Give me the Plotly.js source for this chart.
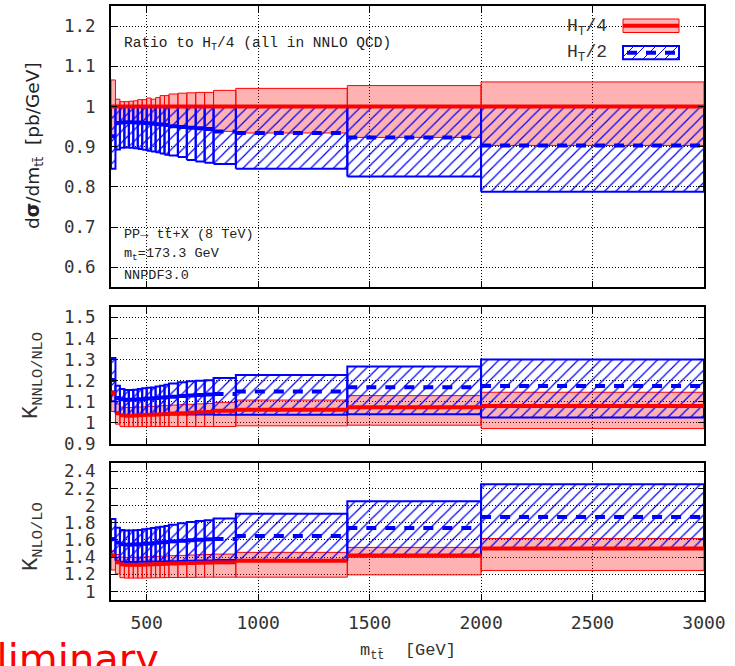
<!DOCTYPE html>
<html><head><meta charset="utf-8">
<script src="https://cdn.plot.ly/plotly-3.0.1.min.js"></script>
<style>html,body{margin:0;padding:0;background:#fff}</style>
</head><body><div id="c" style="width:735px;height:666px"></div>
<script>
// bin edges in m_tt [GeV]
const binEdges = [340,360,380,400,420,440,460,480,500,520,540,560,580,600,640,680,720,760,800,900,1400,2000,3000];

// Panel 1: ratio to H_T/4
const ratioHT4_c  = [1,1,1,1,1,1,1,1,1,1,1,1,1,1,1,1,1,1,1,1,1,1];
const ratioHT4_hi = [1.066,1.018,1.012,1.012,1.013,1.014,1.017,1.017,1.021,1.018,1.022,1.027,1.027,1.031,1.033,1.034,1.035,1.035,1.040,1.045,1.052,1.061];
const ratioHT4_lo = [0.926,0.959,0.960,0.961,0.961,0.960,0.960,0.959,0.958,0.957,0.956,0.955,0.954,0.951,0.949,0.947,0.946,0.944,0.938,0.934,0.923,0.903];
const ratioHT2_c  = [0.926,0.959,0.960,0.961,0.961,0.960,0.960,0.959,0.958,0.957,0.956,0.955,0.954,0.951,0.949,0.947,0.946,0.944,0.938,0.934,0.923,0.903];
const ratioHT2_hi = [1,1,1,1,1,1,1,1,1,1,1,1,1,1,1,1,1,1,1,1,1,1];
const ratioHT2_lo = [0.845,0.893,0.897,0.898,0.897,0.896,0.894,0.892,0.890,0.888,0.886,0.883,0.880,0.878,0.874,0.867,0.863,0.860,0.857,0.845,0.826,0.788];

// Panel 2: K NNLO/NLO
const kNNLO_HT4_c  = [1.141,1.045,1.036,1.034,1.034,1.035,1.036,1.037,1.038,1.039,1.040,1.041,1.042,1.044,1.046,1.048,1.050,1.052,1.058,1.062,1.074,1.080];
const kNNLO_HT4_hi = [1.152,1.090,1.075,1.073,1.073,1.074,1.075,1.076,1.077,1.078,1.080,1.081,1.082,1.084,1.086,1.088,1.090,1.092,1.097,1.108,1.129,1.145];
const kNNLO_HT4_lo = [1.054,0.994,0.983,0.982,0.982,0.982,0.982,0.983,0.983,0.983,0.983,0.983,0.983,0.983,0.983,0.983,0.983,0.983,0.983,0.986,0.989,0.973];
const kNNLO_HT2_c  = [1.203,1.118,1.112,1.110,1.110,1.111,1.112,1.113,1.115,1.116,1.118,1.120,1.121,1.124,1.127,1.130,1.132,1.134,1.137,1.149,1.169,1.175];
const kNNLO_HT2_hi = [1.307,1.176,1.160,1.156,1.156,1.157,1.160,1.164,1.166,1.168,1.172,1.176,1.180,1.187,1.192,1.197,1.200,1.202,1.213,1.227,1.267,1.300];
const kNNLO_HT2_lo = [1.102,1.046,1.037,1.036,1.036,1.036,1.037,1.037,1.037,1.038,1.038,1.038,1.039,1.040,1.040,1.040,1.040,1.040,1.038,1.038,1.041,1.026];

// Panel 3: K NLO/LO
const kNLO_HT4_c  = [1.420,1.340,1.315,1.310,1.310,1.310,1.310,1.312,1.314,1.316,1.318,1.320,1.322,1.325,1.328,1.331,1.334,1.336,1.339,1.358,1.416,1.500];
const kNLO_HT4_hi = [1.470,1.430,1.400,1.395,1.395,1.397,1.400,1.402,1.404,1.406,1.408,1.410,1.413,1.417,1.420,1.424,1.428,1.430,1.435,1.455,1.513,1.617];
const kNLO_HT4_lo = [1.250,1.204,1.160,1.155,1.155,1.155,1.155,1.156,1.157,1.158,1.159,1.160,1.161,1.162,1.163,1.164,1.165,1.166,1.166,1.166,1.193,1.243];
const kNLO_HT2_c  = [1.610,1.570,1.550,1.545,1.545,1.548,1.550,1.555,1.558,1.562,1.567,1.572,1.576,1.583,1.590,1.597,1.602,1.607,1.612,1.647,1.739,1.866];
const kNLO_HT2_hi = [1.845,1.743,1.716,1.709,1.709,1.712,1.716,1.724,1.730,1.739,1.747,1.755,1.763,1.778,1.793,1.809,1.820,1.828,1.851,1.905,2.050,2.250];
const kNLO_HT2_lo = [1.410,1.358,1.346,1.344,1.344,1.344,1.345,1.346,1.347,1.348,1.349,1.350,1.351,1.353,1.355,1.357,1.359,1.361,1.366,1.366,1.427,1.493];

const xTicks = [500,1000,1500,2000,2500,3000];

// ---------- helpers ----------
function boxes(lo, hi){
  const x=[], y=[];
  for(let i=0;i<lo.length;i++){
    const a=binEdges[i], b=binEdges[i+1];
    x.push(a,b,b,a,a,null); y.push(lo[i],lo[i],hi[i],hi[i],lo[i],null);
  }
  return {x,y};
}
function segs(c){
  const x=[], y=[];
  for(let i=0;i<c.length;i++){ x.push(binEdges[i],binEdges[i+1],null); y.push(c[i],c[i],null); }
  return {x,y};
}
const RED='#ff0000', BLUE='#0000ff';
function redBand(lo,hi,xa,ya){
  const b=boxes(lo,hi);
  return {x:b.x,y:b.y,xaxis:xa,yaxis:ya,mode:'lines',fill:'toself',fillcolor:'rgba(255,0,0,0.3)',
    line:{color:RED,width:1},hoverinfo:'skip',showlegend:false};
}
function blueBand(lo,hi,xa,ya){
  const b=boxes(lo,hi);
  return {x:b.x,y:b.y,xaxis:xa,yaxis:ya,mode:'lines',fill:'toself',fillcolor:'rgba(0,0,0,0)',
    fillpattern:{shape:'/',fgcolor:BLUE,bgcolor:'rgba(0,0,0,0)',size:8,solidity:0.15},
    line:{color:BLUE,width:2},hoverinfo:'skip',showlegend:false};
}
function redLine(c,xa,ya){const s=segs(c);return {x:s.x,y:s.y,xaxis:xa,yaxis:ya,mode:'lines',line:{color:RED,width:4},hoverinfo:'skip',showlegend:false};}
function blueLine(c,xa,ya){const s=segs(c);return {x:s.x,y:s.y,xaxis:xa,yaxis:ya,mode:'lines',line:{color:BLUE,width:4,dash:'10px,9px'},hoverinfo:'skip',showlegend:false};}

const data = [
  redBand(ratioHT4_lo,ratioHT4_hi,'x3','y3'), blueBand(ratioHT2_lo,ratioHT2_hi,'x3','y3'),
  redLine(ratioHT4_c,'x3','y3'), blueLine(ratioHT2_c,'x3','y3'),
  redBand(kNNLO_HT4_lo,kNNLO_HT4_hi,'x2','y2'), blueBand(kNNLO_HT2_lo,kNNLO_HT2_hi,'x2','y2'),
  redLine(kNNLO_HT4_c,'x2','y2'), blueLine(kNNLO_HT2_c,'x2','y2'),
  redBand(kNLO_HT4_lo,kNLO_HT4_hi,'x','y'), blueBand(kNLO_HT2_lo,kNLO_HT2_hi,'x','y'),
  redLine(kNLO_HT4_c,'x','y'), blueLine(kNLO_HT2_c,'x','y')
];

// pixel -> paper conversions (plot area 111..704 x 6..600)
const PX = p => (p-111)/593, PY = p => (600-p)/594;

const tickFont = {family:'DejaVu Sans Mono', size:18, color:'#333'};
const ytickFont = {family:'DejaVu Sans Mono', size:17.5, color:'#333'};
function xax(showLabels, anchor){
  return {range:[340,3000], domain:[0,1], anchor:anchor, tickvals:xTicks, showticklabels:showLabels,
    ticks:'inside', ticklen:6, tickcolor:'#000', showline:true, mirror:'ticks', linecolor:'#000', linewidth:2,
    showgrid:true, gridcolor:'#000', gridwidth:1, griddash:'1px,2px', zeroline:false, tickfont:tickFont, ticklabelstandoff:5};
}
function yax(range, tick0, dtick, domain, anchor){
  return {range:range, domain:domain, anchor:anchor, tick0:tick0, dtick:dtick,
    ticks:'inside', ticklen:6, tickcolor:'#000', showline:true, mirror:'ticks', linecolor:'#000', linewidth:2,
    showgrid:true, gridcolor:'#000', gridwidth:1, griddash:'1px,2px', zeroline:false, tickfont:ytickFont, ticklabelstandoff:10};
}

const monoFont = (s,c) => ({family:'Liberation Mono', size:s, color:c||'#222'});
const annotations = [
  {text:'Ratio to H<sub>T</sub>/4 (all in NNLO QCD)', xref:'paper', yref:'paper', x:PX(122), y:PY(44), xanchor:'left', yanchor:'middle', showarrow:false, font:monoFont(14.5)},
  {text:'PP\u2192 tt\u0304+X (8 TeV)', xref:'paper', yref:'paper', x:PX(122), y:PY(235), xanchor:'left', yanchor:'middle', showarrow:false, font:monoFont(13.5)},
  {text:'m<sub>t</sub>=173.3 GeV', xref:'paper', yref:'paper', x:PX(122), y:PY(254), xanchor:'left', yanchor:'middle', showarrow:false, font:monoFont(13.5)},
  {text:'NNPDF3.0', xref:'paper', yref:'paper', x:PX(122), y:PY(275), xanchor:'left', yanchor:'middle', showarrow:false, font:monoFont(13.5)},
  {text:'H<sub>T</sub>/4', xref:'paper', yref:'paper', x:PX(609), y:PY(27), xanchor:'right', yanchor:'middle', showarrow:false, font:monoFont(18,'#333')},
  {text:'H<sub>T</sub>/2', xref:'paper', yref:'paper', x:PX(609), y:PY(53), xanchor:'right', yanchor:'middle', showarrow:false, font:monoFont(18,'#333')},
  {text:'d<b>\u03c3</b>/dm<sub>tt\u0304</sub>  [pb/GeV]', xref:'paper', yref:'paper', x:PX(34), y:PY(146), textangle:-90, xanchor:'center', yanchor:'middle', showarrow:false, font:{family:'DejaVu Sans', size:18.5, color:'#222'}},
  {text:'K<sub>NNLO/NLO</sub>', xref:'paper', yref:'paper', x:PX(33), y:PY(376), textangle:-90, xanchor:'center', yanchor:'middle', showarrow:false, font:monoFont(22,'#333')},
  {text:'K<sub>NLO/LO</sub>', xref:'paper', yref:'paper', x:PX(33), y:PY(537), textangle:-90, xanchor:'center', yanchor:'middle', showarrow:false, font:monoFont(22,'#333')},
  {text:'m<sub>tt\u0304</sub>  [GeV]', xref:'paper', yref:'paper', x:PX(408), y:PY(652), xanchor:'center', yanchor:'middle', showarrow:false, font:monoFont(17,'#333')},
  {text:'Preliminary', xref:'paper', yref:'paper', x:PX(161), y:PY(659), xanchor:'right', yanchor:'middle', showarrow:false, font:{family:'DejaVu Sans', size:40, color:'#ff0000'}}
];

// legend swatches
const lx0=623, lx1=679;
const shapes = [
  {type:'rect', xref:'paper', yref:'paper', x0:PX(lx0), x1:PX(lx1), y0:PY(32.5), y1:PY(19), fillcolor:'rgba(255,0,0,0.3)', line:{color:RED,width:1}},
  {type:'line', xref:'paper', yref:'paper', x0:PX(lx0), x1:PX(lx1), y0:PY(25.7), y1:PY(25.7), line:{color:RED,width:4}},
  {type:'rect', xref:'paper', yref:'paper', x0:PX(lx0), x1:PX(lx1), y0:PY(59.3), y1:PY(46), fillcolor:'rgba(0,0,0,0)', line:{color:BLUE,width:2}},
  {type:'line', xref:'paper', yref:'paper', x0:PX(lx0+4), x1:PX(lx1-2), y0:PY(52.7), y1:PY(52.7), line:{color:BLUE,width:4,dash:'10px,9px'}}
];
(function(){
  const top=46, bot=59.3, h=bot-top; let p='';
  for(let c=lx0-h; c<lx1; c+=11){
    const xs=Math.max(c,lx0), xe=Math.min(c+h,lx1);
    if(xe<=xs) continue;
    const ys=bot-(xs-c), ye=bot-(xe-c);
    p+='M'+PX(xs)+','+PY(ys)+'L'+PX(xe)+','+PY(ye);
  }
  shapes.push({type:'path', xref:'paper', yref:'paper', path:p, line:{color:BLUE,width:1}});
})();

const layout = {
  width:735, height:666, margin:{l:111,r:31,t:6,b:66}, paper_bgcolor:'#fff', plot_bgcolor:'#fff',
  showlegend:false,
  xaxis: xax(true,'y'), yaxis: yax([0.9,2.5],1,0.2,[0,PY(462.7)],'x'),
  xaxis2: xax(false,'y2'), yaxis2: yax([0.9,1.55],0.9,0.1,[PY(444),PY(306.7)],'x2'),
  xaxis3: xax(false,'y3'), yaxis3: yax([0.55,1.25],0.6,0.1,[PY(287.3),1],'x3'),
  annotations:annotations, shapes:shapes
};
Plotly.newPlot('c', data, layout, {staticPlot:true});
</script></body></html>
